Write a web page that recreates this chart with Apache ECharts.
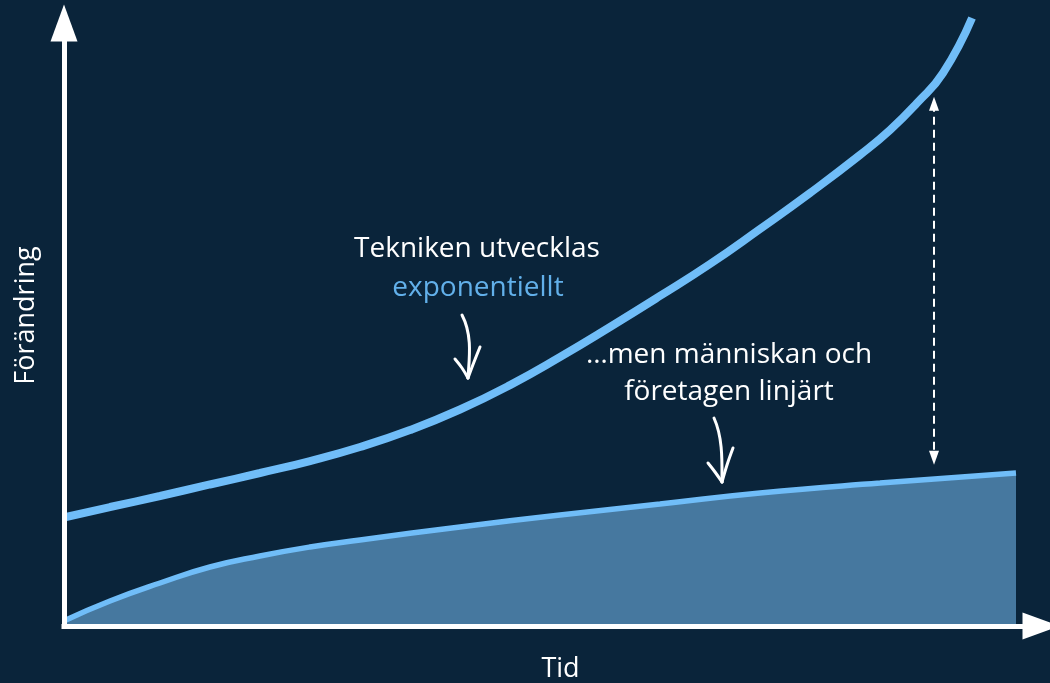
<!DOCTYPE html>
<html>
<head>
<meta charset="utf-8">
<script src="https://cdn.jsdelivr.net/npm/echarts@6/dist/echarts.min.js"></script>
<style>
html,body{margin:0;padding:0;background:#0a243a;}
#chart{width:1050px;height:683px;}
</style>
</head>
<body>
<div id="chart"></div>
<script>
// Time (0-100) and change (0-100)
const techTime   = [0.2, 4.71, 9.83, 14.94, 20.06, 25.18, 30.30, 35.41, 40.53, 45.65, 50.77, 55.89, 61.00, 66.12, 71.24, 76.36, 81.47, 84.55, 87.31, 89.97, 92.94];
const techChange = [18.08, 19.73, 21.56, 23.47, 25.37, 27.36, 29.68, 32.49, 35.90, 39.95, 44.61, 49.59, 54.73, 60.03, 65.84, 71.81, 78.11, 82.26, 86.73, 91.71, 100.83];
const humanTime   = [0.2, 4.71, 9.83, 14.94, 20.06, 25.18, 30.30, 40.53, 50.77, 61.00, 71.24, 83.52, 97.44];
const humanChange = [1.0, 4.15, 7.13, 9.78, 11.61, 13.10, 14.26, 16.42, 18.41, 20.23, 22.06, 23.71, 25.37];
// the gap arrow between the two curves
const gapTime = 89.05;
const gapTop = 86.6;
const gapBottom = 27.9;

const axisName = 'Förändring';
const timeName = 'Tid';
const label1 = 'Tekniken utvecklas';
const label1b = 'exponentiellt';
const label2 = '…men människan och';
const label2b = 'företagen linjärt';

const techData = techTime.map((t, i) => [t, techChange[i]]);
const humanData = humanTime.map((t, i) => [t, humanChange[i]]);

const FONT = '"Open Sans", sans-serif';
const chart = echarts.init(document.getElementById('chart'), null, {renderer: 'canvas'});

const axisLine = {
  show: true,
  symbol: ['none', 'triangle'],
  symbolSize: [27, 37],
  lineStyle: {color: '#ffffff', width: 5, cap: 'square'}
};

chart.setOption({
  backgroundColor: '#0a243a',
  animation: false,
  grid: {left: 64, right: 9, top: 23, bottom: 57, containLabel: false, outerBoundsMode: 'none'},
  xAxis: {
    type: 'value', min: 0, max: 100, z: 10,
    name: timeName, nameLocation: 'middle', nameGap: 30,
    nameTextStyle: {color: '#ffffff', fontFamily: FONT, fontSize: 27, padding: [0, 0, 0, 16]},
    axisLine: axisLine, axisTick: {show: false}, axisLabel: {show: false}, splitLine: {show: false}
  },
  yAxis: {
    type: 'value', min: 0, max: 100, z: 10,
    name: axisName, nameLocation: 'middle', nameGap: 24,
    nameTextStyle: {color: '#ffffff', fontFamily: FONT, fontSize: 27, padding: [0, 0, 0, 18]},
    axisLine: axisLine, axisTick: {show: false}, axisLabel: {show: false}, splitLine: {show: false}
  },
  series: [
    {
      type: 'line', data: humanData, smooth: 0.5, showSymbol: false, silent: true,
      lineStyle: {color: '#70bdf8', width: 5.5},
      areaStyle: {color: '#46789f', opacity: 1, origin: 'start'},
      z: 2
    },
    {
      type: 'line', data: techData, smooth: 0.5, showSymbol: false, silent: true, clip: false,
      lineStyle: {color: '#70bdf8', width: 8},
      z: 3,
      markLine: {
        silent: true,
        symbol: ['triangle', 'triangle'],
        symbolSize: [10, 14],
        label: {show: false},
        lineStyle: {color: '#ffffff', width: 2, type: [8, 5]},
        emphasis: {disabled: true},
        data: [[{coord: [gapTime, gapTop]}, {coord: [gapTime, gapBottom]}]]
      }
    }
  ],
  graphic: [
    {type: 'text', x: 477, y: 249, style: {text: label1, fill: '#ffffff', font: '28px ' + FONT, textAlign: 'center', textVerticalAlign: 'middle'}},
    {type: 'text', x: 478, y: 288, style: {text: label1b, fill: '#62b0ea', font: '28px ' + FONT, textAlign: 'center', textVerticalAlign: 'middle'}},
    {type: 'text', x: 729, y: 355, style: {text: label2, fill: '#ffffff', font: '28px ' + FONT, textAlign: 'center', textVerticalAlign: 'middle'}},
    {type: 'text', x: 729, y: 392, style: {text: label2b, fill: '#ffffff', font: '28px ' + FONT, textAlign: 'center', textVerticalAlign: 'middle'}},
    // hand drawn arrow 1
    {type: 'bezierCurve', shape: {x1: 462, y1: 315, cpx1: 473, cpy1: 336, cpx2: 469, cpy2: 360, x2: 468, y2: 378},
      style: {stroke: '#ffffff', lineWidth: 3, fill: null, lineCap: 'round'}},
    {type: 'polyline', shape: {points: [[455, 359], [462, 368], [468, 378]], smooth: 0.4},
      style: {stroke: '#ffffff', lineWidth: 3, fill: null, lineCap: 'round', lineJoin: 'round'}},
    {type: 'polyline', shape: {points: [[480, 347], [474, 362], [468, 378]], smooth: 0.4},
      style: {stroke: '#ffffff', lineWidth: 3, fill: null, lineCap: 'round', lineJoin: 'round'}},
    // hand drawn arrow 2
    {type: 'bezierCurve', shape: {x1: 714, y1: 418, cpx1: 723, cpy1: 438, cpx2: 722, cpy2: 462, x2: 722, y2: 482},
      style: {stroke: '#ffffff', lineWidth: 3, fill: null, lineCap: 'round'}},
    {type: 'polyline', shape: {points: [[708, 463], [715, 472], [722, 482]], smooth: 0.4},
      style: {stroke: '#ffffff', lineWidth: 3, fill: null, lineCap: 'round', lineJoin: 'round'}},
    {type: 'polyline', shape: {points: [[733, 448], [727, 465], [722, 482]], smooth: 0.4},
      style: {stroke: '#ffffff', lineWidth: 3, fill: null, lineCap: 'round', lineJoin: 'round'}}
  ]
});
</script>
</body>
</html>
